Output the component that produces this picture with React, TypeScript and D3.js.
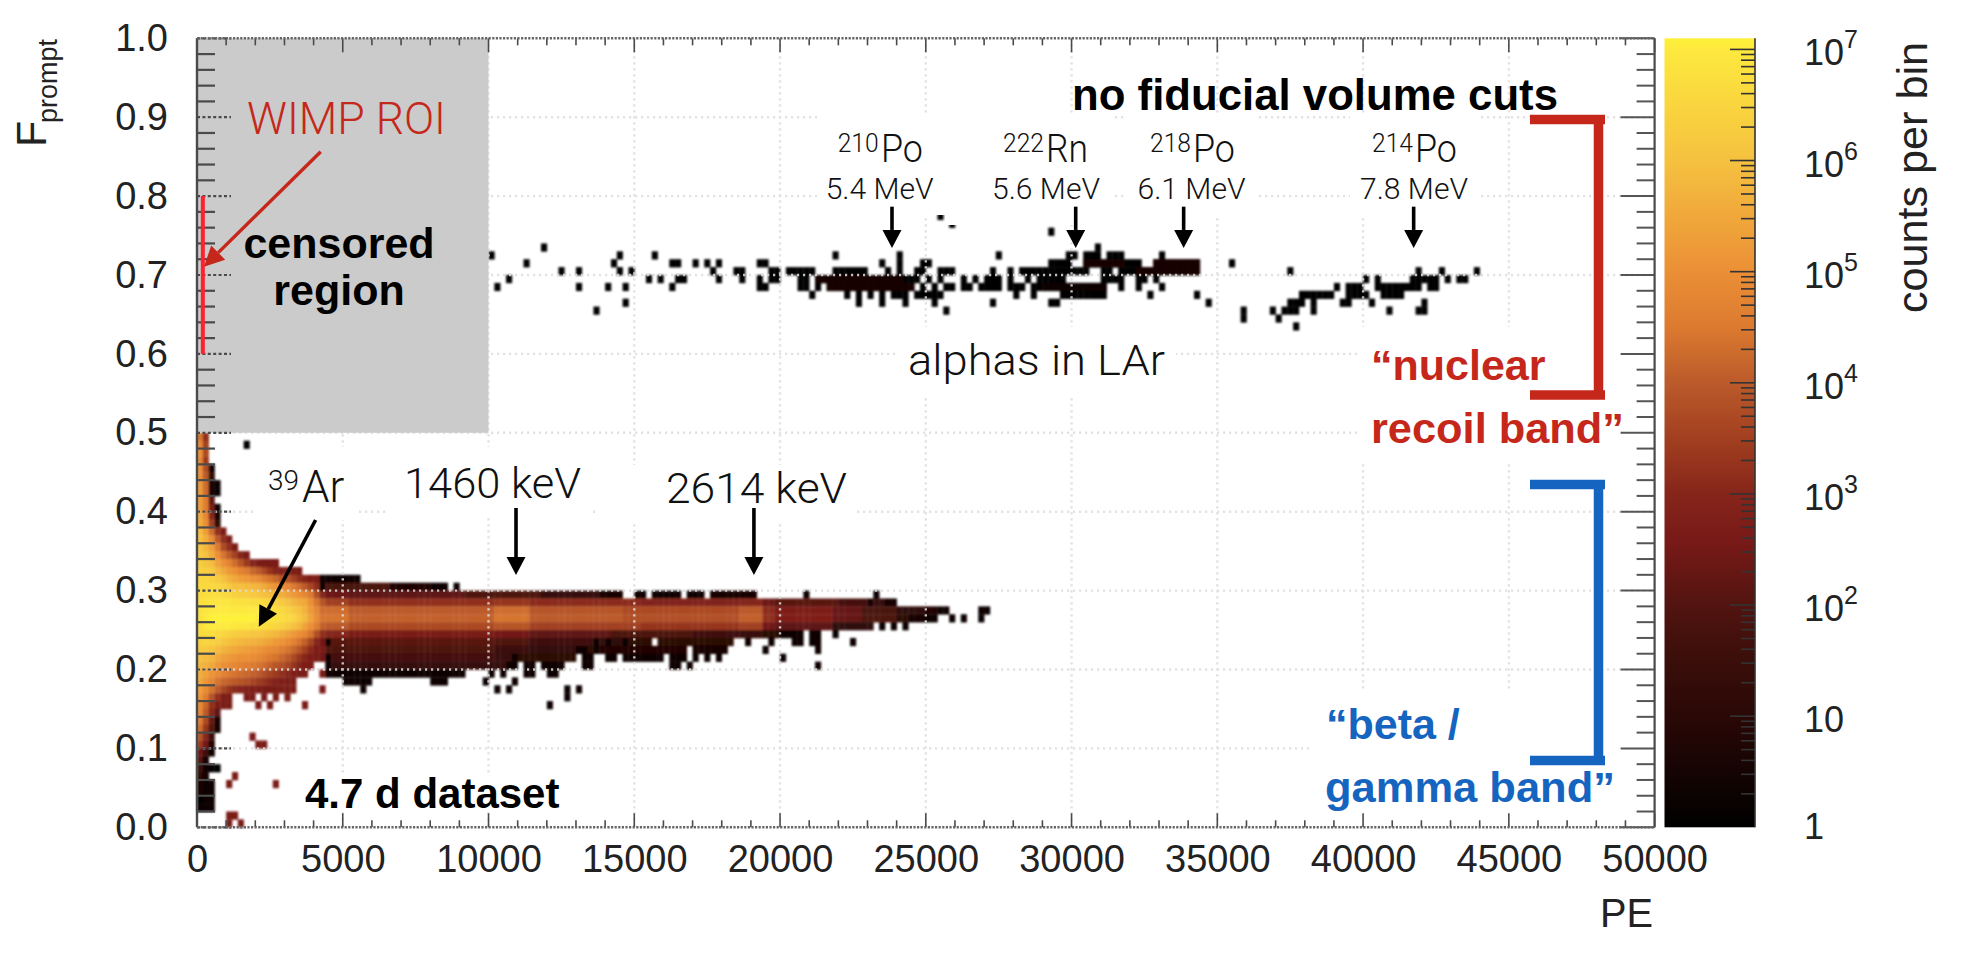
import React, { useEffect, useRef } from 'react';
import * as d3 from 'd3';

// histogram binning
const PE_BIN = 200;
const F_BIN = 0.01;

const xTicks = [0, 5000, 10000, 15000, 20000, 25000, 30000, 35000, 40000, 45000, 50000];
const yTicks = [0, 0.1, 0.2, 0.3, 0.4, 0.5, 0.6, 0.7, 0.8, 0.9, 1.0];
const colorExponents = [0, 1, 2, 3, 4, 5, 6, 7];

// colour bar: log10(counts) -> colour
const logStops = [0, 1, 1.5, 2, 2.6, 3, 3.5, 4, 4.5, 5, 6, 7, 7.1];
const logColors = ['#000000', '#2a0806', '#3a0e0a', '#521410', '#7a1a18', '#85251a', '#a23f20', '#bb5a2a', '#dc7a30', '#eb8f36', '#f5c13f', '#fde93e', '#fef139'];

// log10(counts) from PE bin 0 upward, one line per F row
const lowPeRows: [number, number[]][] = [
  [49, [4.4, 3.2]],
  [48, [4.8, 3.5]],
  [47, [5.0, 3.7]],
  [46, [4.8, 3.4]],
  [45, [5.0, 3.8, 0.3]],
  [44, [5.0, 4.0, 1.0]],
  [43, [5.2, 4.3, 0.5, 0.2]],
  [42, [5.2, 4.3, 0.5, 0.2]],
  [41, [5.3, 4.6, 2.2]],
  [40, [5.3, 4.6, 2.6, 0.2]],
  [39, [5.5, 4.8, 3.0, 0.5]],
  [38, [5.6, 5.0, 3.5, 1.0]],
  [37, [5.9, 5.3, 4.3, 3.2, 2.6]],
  [36, [6.0, 5.6, 4.9, 4.0, 3.2, 2.7]],
  [35, [6.1, 5.8, 5.3, 4.5, 3.7, 3.2, 2.7]],
  [34, [6.2, 6.0, 5.6, 5.0, 4.4, 4.0, 3.5, 3.0, 2.6]],
  [33, [6.3, 6.1, 5.9, 5.4, 5.0, 4.7, 4.3, 3.9, 3.4, 3.0, 2.7, 2.6, 2.6, 2.6]],
  [32, [6.4, 6.3, 6.2, 5.8, 5.5, 5.2, 5.0, 4.7, 4.5, 4.2, 4.0, 3.7, 3.3, 3.0, 2.9, 2.8, 2.7, 2.6]],
  [31, [6.5, 6.5, 6.4, 6.2, 6.0, 5.7, 5.5, 5.3, 5.2, 5.0, 4.9, 4.6, 4.4, 4.2, 3.9, 3.8, 3.5, 3.2, 3.0, 2.8, 2.7]],
  [30, [6.6, 6.6, 6.6, 6.5, 6.4, 6.2, 6.0, 6.0, 5.9, 5.8, 5.7, 5.5, 5.3, 5.1, 4.9, 4.8, 4.5, 4.3, 4.0, 3.6, 3.2]],
  [29, [6.6, 6.7, 6.7, 6.7, 6.6, 6.5, 6.4, 6.3, 6.3, 6.2, 6.1, 6.0, 5.9, 5.8, 5.6, 5.4, 5.2, 5.0, 4.8, 4.5, 3.8, 3.0]],
  [28, [6.7, 6.8, 6.9, 6.9, 6.9, 6.9, 6.8, 6.8, 6.8, 6.7, 6.7, 6.6, 6.5, 6.4, 6.2, 6.0, 5.8, 5.6, 5.5, 5.0, 4.4, 3.9]],
  [27, [6.8, 6.9, 7.0, 7.0, 7.0, 7.0, 7.0, 7.0, 7.0, 7.0, 7.0, 6.9, 6.8, 6.7, 6.6, 6.4, 6.2, 6.0, 5.7, 5.2, 4.8, 4.3]],
  [26, [6.8, 7.0, 7.1, 7.1, 7.1, 7.1, 7.1, 7.1, 7.1, 7.1, 7.0, 7.0, 6.9, 6.8, 6.7, 6.6, 6.5, 6.2, 5.9, 5.4, 4.9, 4.4]],
  [25, [6.7, 6.9, 7.0, 7.0, 7.0, 7.0, 6.9, 6.9, 6.9, 6.8, 6.8, 6.7, 6.6, 6.5, 6.4, 6.2, 6.0, 5.8, 5.4, 5.0, 4.6, 4.1]],
  [24, [6.6, 6.7, 6.7, 6.6, 6.5, 6.4, 6.3, 6.2, 6.2, 6.1, 6.1, 6.0, 5.9, 5.8, 5.6, 5.4, 5.2, 5.0, 4.8, 4.4, 3.8, 3.2]],
  [23, [6.4, 6.5, 6.4, 6.3, 6.1, 6.0, 5.9, 5.8, 5.7, 5.7, 5.6, 5.5, 5.4, 5.2, 5.1, 4.9, 4.7, 4.4, 4.1, 3.6, 3.0, 2.5, 0.2]],
  [22, [6.2, 6.2, 6.1, 5.9, 5.7, 5.6, 5.5, 5.4, 5.3, 5.2, 5.1, 5.0, 4.9, 4.8, 4.6, 4.4, 4.2, 3.9, 3.5, 3.1, 2.7, 2.6, 2.0]],
  [21, [6.0, 5.9, 5.8, 5.5, 5.3, 5.2, 5.1, 5.0, 5.0, 4.9, 4.8, 4.7, 4.5, 4.4, 4.2, 4.0, 3.7, 3.3, 3.0, 2.7, 2.6, 2.5]],
  [20, [5.8, 5.7, 5.5, 5.2, 5.0, 4.9, 4.8, 4.7, 4.6, 4.5, 4.4, 4.3, 4.1, 3.9, 3.8, 3.6, 3.3, 3.0, 2.8, 2.6]],
  [19, [5.6, 5.4, 5.1, 4.9, 4.7, 4.5, 4.4, 4.3, 4.2, 4.1, 4.0, 3.8, 3.6, 3.4, 3.2, 3.0, 2.8, 2.6, 2.6]],
  [18, [5.5, 5.1, 4.8, 4.4, 4.2, 4.1, 4.0, 3.9, 3.8, 3.6, 3.4, 3.3, 3.1, 2.9, 2.8, 2.7, 2.6]],
  [17, [5.3, 4.9, 4.4, 4.0, 3.6, 3.3, 3.1, 3.0, 2.9, 2.8, 2.7, 2.6, 2.6, 2.6, 2.6, 2.6, 2.6]],
  [16, [5.1, 4.6, 3.9, 3.2, 2.7, 2.6]],
  [15, [4.9, 4.2, 3.2, 2.6, 2.6, 2.6]],
  [14, [4.8, 4.0, 3.0, 2.2]],
  [13, [4.6, 3.7, 2.3, 0.5]],
  [12, [4.3, 3.3, 2.0, 0.5]],
  [11, [3.9, 3.0, 1.5]],
  [10, [3.4, 2.5, 0.8]],
  [9, [2.4, 1.6, 0.3]],
  [8, [2.0, 0.5]],
  [7, [1.5, 0.3, 0, 0]],
  [6, [1.0, 0.5]],
  [5, [0.7, 0.3, 0.3]],
  [4, [0.5, 0.3, 0.3]],
  [3, [0, 0.2, 0.2]],
  [2, [0.3, 0.3, 0.3]],
];

// the rest of the beta/gamma band: [F row, first PE bin, last PE bin, log10(counts)]
const bandRuns: [number, number, number, number][] = [
  [48, 8, 8, 0],
  [33, 11, 13, 2.6],
  [31, 21, 25, 0.3], [31, 26, 27, 0.2],
  [30, 21, 21, 0.3], [30, 22, 32, 1.8], [30, 33, 39, 0.7], [30, 40, 42, 0.2], [30, 44, 44, 0.2],
  [29, 22, 25, 2.4], [29, 26, 45, 2.2], [29, 46, 58, 1.9], [29, 59, 68, 1.3], [29, 69, 72, 0.5], [29, 75, 76, 0.3], [29, 78, 82, 0.4], [29, 84, 86, 0.3], [29, 88, 95, 0.5], [29, 104, 104, 0.2], [29, 116, 116, 0.2],
  [28, 22, 25, 3.5], [28, 26, 50, 3.2], [28, 51, 56, 3.3], [28, 57, 75, 3.1], [28, 76, 92, 2.9], [28, 93, 96, 3.0], [28, 97, 98, 2.4], [28, 99, 109, 2.1], [28, 110, 114, 1.7], [28, 115, 115, 0.5], [28, 116, 117, 1.3], [28, 118, 119, 0.5],
  [27, 22, 25, 4.3], [27, 26, 50, 4.0], [27, 51, 56, 4.3], [27, 57, 72, 3.9], [27, 73, 92, 3.7], [27, 93, 96, 4.0], [27, 97, 98, 3.1], [27, 99, 108, 2.7], [27, 109, 113, 2.3], [27, 114, 119, 1.8], [27, 120, 124, 1.1], [27, 125, 126, 0.8], [27, 127, 128, 0.4], [27, 134, 135, 0.2],
  [26, 22, 25, 4.4], [26, 26, 50, 4.1], [26, 51, 56, 4.4], [26, 57, 72, 4.0], [26, 73, 92, 3.8], [26, 93, 96, 4.1], [26, 97, 98, 3.2], [26, 99, 108, 2.8], [26, 109, 113, 2.3], [26, 114, 119, 1.9], [26, 120, 121, 1.0], [26, 122, 124, 0.5], [26, 125, 126, 0.3], [26, 129, 129, 0.2], [26, 131, 131, 0.2], [26, 134, 134, 0.2],
  [25, 22, 25, 4.0], [25, 26, 50, 3.7], [25, 51, 56, 3.9], [25, 57, 75, 3.5], [25, 76, 92, 3.3], [25, 93, 96, 3.5], [25, 97, 98, 2.5], [25, 99, 108, 2.2], [25, 109, 115, 1.1], [25, 117, 117, 0.3], [25, 119, 119, 0.3], [25, 121, 121, 0.3],
  [24, 22, 25, 3.0], [24, 26, 50, 2.6], [24, 51, 56, 2.5], [24, 57, 70, 2.2], [24, 71, 84, 1.9], [24, 85, 92, 1.6], [24, 93, 96, 1.4], [24, 97, 99, 0.9], [24, 100, 103, 0.3], [24, 105, 106, 0.3], [24, 109, 109, 0.2],
  [23, 23, 50, 2.1], [23, 51, 56, 1.9], [23, 57, 67, 1.6], [23, 68, 68, 0.3], [23, 69, 69, 1.3], [23, 70, 70, 0.3], [23, 71, 72, 1.1], [23, 73, 73, 0.3], [23, 74, 77, 1.0], [23, 79, 91, 1.0], [23, 94, 94, 0.4], [23, 98, 98, 0.3], [23, 102, 103, 0.3], [23, 105, 106, 0.3], [23, 112, 112, 0.2],
  [22, 23, 50, 1.9], [22, 51, 56, 1.5], [22, 57, 64, 1.2], [22, 65, 66, 0.3], [22, 67, 67, 1.0], [22, 68, 68, 0.3], [22, 69, 83, 0.8], [22, 85, 90, 0.6], [22, 97, 97, 0.3], [22, 106, 106, 0.3],
  [21, 22, 22, 0.3], [21, 23, 50, 1.7], [21, 51, 53, 1.4], [21, 54, 54, 0.3], [21, 55, 64, 1.0], [21, 66, 67, 0.3], [21, 70, 71, 0.3], [21, 73, 79, 0.3], [21, 81, 83, 0.3], [21, 85, 85, 0.3], [21, 87, 87, 0.3], [21, 89, 89, 0.3], [21, 100, 100, 0.3],
  [20, 22, 22, 0.3], [20, 23, 52, 1.3], [20, 53, 54, 0.3], [20, 56, 57, 0.3], [20, 59, 62, 0.3], [20, 66, 67, 0.3], [20, 81, 82, 0.3], [20, 84, 84, 0.3], [20, 106, 106, 0.3],
  [19, 21, 21, 2.6], [19, 22, 37, 0.4], [19, 38, 42, 0.3], [19, 43, 45, 0.3], [19, 50, 50, 0.3], [19, 52, 52, 0.3], [19, 56, 57, 0.3], [19, 60, 61, 0.3],
  [18, 25, 29, 0.3], [18, 40, 42, 0.3], [18, 49, 49, 0.2], [18, 54, 54, 0.2],
  [17, 21, 21, 2.6], [17, 28, 28, 0.3], [17, 51, 51, 0.2], [17, 53, 53, 0.2], [17, 63, 63, 0.2], [17, 65, 65, 0.2],
  [16, 8, 9, 2.6], [16, 11, 11, 2.6], [16, 13, 13, 2.6], [16, 15, 15, 2.6], [16, 63, 63, 0.2],
  [15, 10, 10, 2.6], [15, 12, 12, 2.6], [15, 18, 18, 2.6], [15, 60, 60, 0.2],
  [11, 9, 9, 2.6],
  [10, 10, 11, 2.6],
  [6, 6, 6, 2.6],
  [5, 5, 5, 2.6], [5, 13, 13, 2.6],
  [1, 5, 6, 2.6],
  [0, 5, 5, 2.6], [0, 7, 7, 2.6],
];

// alpha events, mostly single counts: [F row, PE bins]
const alphaRows: [number, string][] = [
  [77, '127'],
  [76, '129'],
  [75, '146'],
  [73, '59 154'],
  [72, '50 72 78 109 120 137 149-150 152-154 156-158 165'],
  [71, '56 71 81-82 85 87 89 96-97 117 120 124-125 146-149 152-161 164-171 177'],
  [70, '62 65 72 74 88 92-93 98-99 101-105 109-114 118 120 123-124 127-129 136 139 141-152 155-156 158-171 187 209 213 219'],
  [69, '53 77 79 82-83 89 93 96 98-99 103-104 106-123 125 127 131 133 135-137 139 142 144-148 155-158 161-162 164 200 202 208-212 214 216-217'],
  [68, '51 65 70 73 81 96-97 103-104 106 108-122 124 126 128-129 131-132 134-137 139-141 143-155 158 161 165 195 197-199 202-209 211-212'],
  [67, '105 111 113 115 117 119-121 123-127 140 143 148-155 163 171 189-194 197-200 203-206'],
  [66, '73 113 117 121 126 136 146-147 173 187-189 191 196-197 201 210'],
  [65, '68 128 179 184 186-188 191 204 209-210'],
  [64, '179 185'],
  [63, '188'],
];

// denser alpha stretches that show a reddish tint: [F row, first PE bin, last PE bin, log10(counts)]
const alphaDense: [number, number, number, number][] = [
  [69, 106, 120, 0.6],
  [68, 108, 122, 0.6],
  [71, 152, 158, 0.5],
  [71, 164, 171, 0.6],
  [70, 161, 171, 0.6],
  [68, 145, 155, 0.4],
];

const roiPE = 200;
const roiF = [0.6, 0.8];
const censoredPE = [0, 10000];
const censoredF = [0.5, 1.0];

// peak arrows: [PE, F start, F tip]
const peakArrows: [number, number, number][] = [
  [10943, 0.4047, 0.3198],
  [19104, 0.4047, 0.3198],
  [23840, 0.7866, 0.7343],
  [30142, 0.7866, 0.7343],
  [33845, 0.7866, 0.7343],
  [41735, 0.7866, 0.7343],
];

const PLOT = { left: 197, right: 1654.6, top: 38.3, bottom: 827.3 };
const BAR = { left: 1664.5, right: 1755 };
const RED = '#c5281a';
const BLUE = '#1565c0';
const SANS = '"Liberation Sans", Arial, sans-serif';
const LIGHT = 'Roboto, "Liberation Sans", sans-serif';

const App = () => {
  const ref = useRef<SVGSVGElement | null>(null);

  useEffect(() => {
    const svg = d3.select(ref.current);
    svg.selectAll('*').remove();

    const x = d3.scaleLinear().domain([0, 50000]).range([PLOT.left, PLOT.right]);
    const y = d3.scaleLinear().domain([0, 1]).range([PLOT.bottom, PLOT.top]);
    const color = d3.scaleLinear<string>().domain(logStops).range(logColors).clamp(true);
    const barY = d3.scaleLog().domain([1, Math.pow(10, 7.1)]).range([PLOT.bottom, PLOT.top]);

    // expand everything to cells
    const cells: { col: number; row: number; log: number }[] = [];
    lowPeRows.forEach(([row, vals]) => vals.forEach((log, col) => cells.push({ col, row, log })));
    bandRuns.forEach(([row, a, b, log]) => d3.range(a, b + 1).forEach((col) => cells.push({ col, row, log })));
    alphaRows.forEach(([row, s]) =>
      s.split(' ').forEach((tok) => {
        const [a, b] = tok.split('-').map(Number);
        d3.range(a, (b ?? a) + 1).forEach((col) => cells.push({ col, row, log: 0 }));
      })
    );
    alphaDense.forEach(([row, a, b, log]) => d3.range(a, b + 1).forEach((col) => cells.push({ col, row, log })));

    const defs = svg.append('defs');
    defs.append('filter').attr('id', 'soft').append('feGaussianBlur').attr('stdDeviation', 1);
    const grad = defs.append('linearGradient').attr('id', 'cbar').attr('x1', 0).attr('x2', 0).attr('y1', 1).attr('y2', 0);
    logStops.forEach((s, i) => {
      grad.append('stop').attr('offset', s / 7.1).attr('stop-color', logColors[i]);
    });

    svg.append('g')
      .attr('filter', 'url(#soft)')
      .selectAll('rect')
      .data(cells)
      .enter()
      .append('rect')
      .attr('x', (d) => x(d.col * PE_BIN))
      .attr('y', (d) => y((d.row + 1) * F_BIN))
      .attr('width', x(PE_BIN) - x(0) + 0.3)
      .attr('height', y(0) - y(F_BIN) + 0.3)
      .attr('fill', (d) => color(d.log));

    // dotted grid, over the histogram as in the original
    const grid = svg.append('g').attr('stroke', '#dddddd').attr('stroke-width', 2.4).attr('stroke-dasharray', '2.2 3.8').attr('opacity', 0.85);
    xTicks.slice(1, -1).forEach((t) => {
      grid.append('line').attr('x1', x(t)).attr('x2', x(t)).attr('y1', y(1)).attr('y2', y(0));
    });
    yTicks.slice(1, -1).forEach((t) => {
      grid.append('line').attr('x1', x(0)).attr('x2', x(50000)).attr('y1', y(t)).attr('y2', y(t));
    });

    // white text boxes pasted over the plot
    const boxes = [
      [257, 447, 101, 73], [389, 447, 202, 70], [595, 465, 259, 58],
      [817, 115, 128, 100], [945, 115, 167, 110], [1126, 115, 131, 103], [1350, 115, 128, 103],
      [897, 327, 279, 68], [1360, 327, 290, 136], [1312, 690, 340, 130], [300, 775, 260, 35],
    ];
    svg.append('g').selectAll('rect').data(boxes).enter().append('rect')
      .attr('x', (d) => d[0]).attr('y', (d) => d[1]).attr('width', (d) => d[2]).attr('height', (d) => d[3])
      .attr('fill', '#fff');

    svg.append('rect')
      .attr('x', x(censoredPE[0]))
      .attr('y', y(censoredF[1]))
      .attr('width', x(censoredPE[1]) - x(censoredPE[0]))
      .attr('height', y(censoredF[0]) - y(censoredF[1]))
      .attr('fill', '#cbcbcb');

    // frame and ticks
    const axis = svg.append('g').attr('stroke', '#4a4a4a').attr('fill', 'none');
    const minorX = d3.range(0, 50001, 1000);
    minorX.forEach((t) => {
      const len = t % 5000 === 0 ? 14 : 7;
      axis.append('line').attr('x1', x(t)).attr('x2', x(t)).attr('y1', y(0)).attr('y2', y(0) - len).attr('stroke-width', 1.6);
      axis.append('line').attr('x1', x(t)).attr('x2', x(t)).attr('y1', y(1)).attr('y2', y(1) + len).attr('stroke-width', 1.6);
    });
    d3.range(0, 51).forEach((i) => {
      const t = i * 0.02;
      const major = i % 5 === 0;
      const len = major ? 34 : 18;
      axis.append('line').attr('x1', x(0)).attr('x2', x(0) + len).attr('y1', y(t)).attr('y2', y(t))
        .attr('stroke-width', 2.2).attr('stroke-dasharray', major ? '3 2.4' : null);
      axis.append('line').attr('x1', x(50000)).attr('x2', x(50000) - len).attr('y1', y(t)).attr('y2', y(t))
        .attr('stroke-width', 2).attr('stroke', '#555');
    });
    axis.append('line').attr('x1', x(0)).attr('x2', x(0)).attr('y1', y(0)).attr('y2', y(1)).attr('stroke-width', 2.4);
    axis.append('line').attr('x1', x(50000)).attr('x2', x(50000)).attr('y1', y(0)).attr('y2', y(1)).attr('stroke-width', 2.2);
    [0, 1].forEach((t) => {
      axis.append('line').attr('x1', x(0)).attr('x2', x(50000)).attr('y1', y(t)).attr('y2', y(t))
        .attr('stroke-width', 2.6).attr('stroke', '#666').attr('stroke-dasharray', '2.2 1.4');
    });

    const xAxis = svg.append('g')
      .attr('transform', `translate(0,${y(0)})`)
      .call(d3.axisBottom(x).tickValues(xTicks).tickSize(0).tickPadding(18).tickFormat(d3.format('d') as any));
    const yAxis = svg.append('g')
      .attr('transform', `translate(${x(0)},0)`)
      .call(d3.axisLeft(y).tickValues(yTicks).tickSize(0).tickPadding(29).tickFormat(d3.format('.1f') as any));
    [xAxis, yAxis].forEach((a) => {
      a.select('.domain').remove();
      a.selectAll('text').attr('font-family', SANS).attr('font-size', 38).attr('fill', '#222');
    });

    // colour bar
    svg.append('rect')
      .attr('x', BAR.left).attr('y', PLOT.top)
      .attr('width', BAR.right - BAR.left).attr('height', PLOT.bottom - PLOT.top)
      .attr('fill', 'url(#cbar)');
    const barTicks = svg.append('g').attr('stroke', '#333').attr('stroke-width', 1.6);
    colorExponents.forEach((e) => {
      if (e < 7) {
        d3.range(2, 10).forEach((m) => {
          const v = m * Math.pow(10, e);
          barTicks.append('line').attr('x1', BAR.right).attr('x2', BAR.right - 14).attr('y1', barY(v)).attr('y2', barY(v));
        });
      }
      if (e > 0) {
        barTicks.append('line').attr('x1', BAR.right).attr('x2', BAR.right - 25).attr('y1', barY(Math.pow(10, e))).attr('y2', barY(Math.pow(10, e)));
      }
      const base = barY(Math.pow(10, e)) + (e === 0 ? 12 : 16);
      const label = svg.append('text').attr('x', 1804).attr('y', base).attr('font-family', SANS).attr('font-size', 36).attr('fill', '#222');
      label.append('tspan').text(e === 0 ? '1' : '10');
      if (e > 1) label.append('tspan').attr('dy', -17).attr('font-size', 25).text(String(e));
    });
    svg.append('line').attr('x1', BAR.right).attr('x2', BAR.right).attr('y1', PLOT.top).attr('y2', PLOT.bottom)
      .attr('stroke', '#333').attr('stroke-width', 1.6);

    const text = (s: string, px: number, py: number, size: number, opts: any = {}) =>
      svg.append('text')
        .attr('x', px).attr('y', py).attr('font-size', size)
        .attr('font-family', opts.family ?? LIGHT)
        .attr('font-weight', opts.weight ?? (opts.family ? 400 : 300))
        .attr('fill', opts.fill ?? '#111')
        .attr('text-anchor', opts.anchor ?? 'start')
        .attr('textLength', opts.length ?? null)
        .attr('lengthAdjust', opts.length ? 'spacingAndGlyphs' : null)
        .text(s);

    // axis titles
    text('PE', 1600, 927, 40, { family: SANS, fill: '#222', length: 53 });
    text('F', 0, 0, 43, { family: SANS, fill: '#222' }).attr('transform', 'translate(46,147) rotate(-90)');
    text('prompt', 0, 0, 27, { family: SANS, fill: '#222' }).attr('transform', 'translate(57,123) rotate(-90)');
    text('counts per bin', 0, 0, 43, { family: SANS, fill: '#222', length: 271 }).attr('transform', 'translate(1927,313) rotate(-90)');

    // bold slide labels
    const bold = { family: SANS, weight: 700, fill: '#000' };
    text('censored', 339, 258, 43, { ...bold, anchor: 'middle' });
    text('region', 339, 305, 43, { ...bold, anchor: 'middle' });
    text('no fiducial volume cuts', 1072, 110, 43.5, { ...bold, length: 486 });
    text('4.7 d dataset', 305, 808, 42, bold);
    text('\u201Cnuclear', 1371, 380, 43, { family: SANS, weight: 700, fill: RED });
    text('recoil band\u201D', 1371, 443, 43, { family: SANS, weight: 700, fill: RED, length: 253 });
    text('\u201Cbeta /', 1326, 739, 43, { family: SANS, weight: 700, fill: BLUE });
    text('gamma band\u201D', 1325, 802, 43, { family: SANS, weight: 700, fill: BLUE, length: 290 });

    // light slide labels
    text('WIMP ROI', 247, 134, 45, { fill: RED, length: 199 });
    text('alphas in LAr', 908, 375, 42, { length: 257 });
    text('1460 keV', 404, 498, 42, { length: 177 });
    text('2614 keV', 666, 503, 42, { length: 181 });
    text('39', 268, 490, 28);
    text('Ar', 302, 501.7, 44);

    const isotopes: [string, string, string, number, number, number][] = [
      ['210', 'Po', '5.4 MeV', 837.7, 881, 825.7],
      ['222', 'Rn', '5.6 MeV', 1003, 1046, 992],
      ['218', 'Po', '6.1 MeV', 1150, 1193, 1137.5],
      ['214', 'Po', '7.8 MeV', 1372, 1415, 1360],
    ];
    isotopes.forEach(([mass, el, energy, sx, ex, mx]) => {
      text(mass, sx, 151.7, 25, { length: 41 });
      text(el, ex, 161.7, 38, { length: 42 });
      text(energy, mx, 199, 29, { length: 108 });
    });

    // ROI line
    svg.append('line')
      .attr('x1', x(roiPE)).attr('x2', x(roiPE)).attr('y1', y(roiF[0])).attr('y2', y(roiF[1]))
      .attr('stroke', '#ff2030').attr('stroke-width', 4);

    // arrows
    const arrow = (x0: number, y0: number, x1: number, y1: number, col: string, w: number, hl: number, hw: number) => {
      const a = Math.atan2(y1 - y0, x1 - x0);
      const bx = x1 - hl * Math.cos(a);
      const by = y1 - hl * Math.sin(a);
      svg.append('line').attr('x1', x0).attr('y1', y0).attr('x2', bx).attr('y2', by).attr('stroke', col).attr('stroke-width', w);
      const nx = -Math.sin(a) * hw / 2;
      const ny = Math.cos(a) * hw / 2;
      svg.append('polygon').attr('points', `${x1},${y1} ${bx + nx},${by + ny} ${bx - nx},${by - ny}`).attr('fill', col);
    };
    peakArrows.forEach(([pe, f0, f1]) => arrow(x(pe), y(f0), x(pe), y(f1), '#000', 3.6, 18, 19));
    arrow(315.6, 520, 258.8, 626.7, '#000', 3.6, 20, 20);
    arrow(320.7, 151.7, 204, 266.7, RED, 3.4, 20, 20);

    // band brackets
    const bracket = (top: number, bottom: number, col: string) => {
      const path = d3.path();
      path.moveTo(1530, top);
      path.lineTo(1605, top);
      path.moveTo(1598.5, top);
      path.lineTo(1598.5, bottom);
      path.moveTo(1530, bottom);
      path.lineTo(1605, bottom);
      svg.append('path').attr('d', path.toString()).attr('fill', 'none').attr('stroke', col).attr('stroke-width', 9.5);
    };
    bracket(119.5, 395, RED);
    bracket(484.5, 760.5, BLUE);
  }, []);

  return (
    <svg
      ref={ref}
      width={1966}
      height={962}
      viewBox="0 0 1966 962"
      style={{ position: 'absolute', left: 0, top: 0, background: '#fff', display: 'block' }}
    />
  );
};

export default App;
